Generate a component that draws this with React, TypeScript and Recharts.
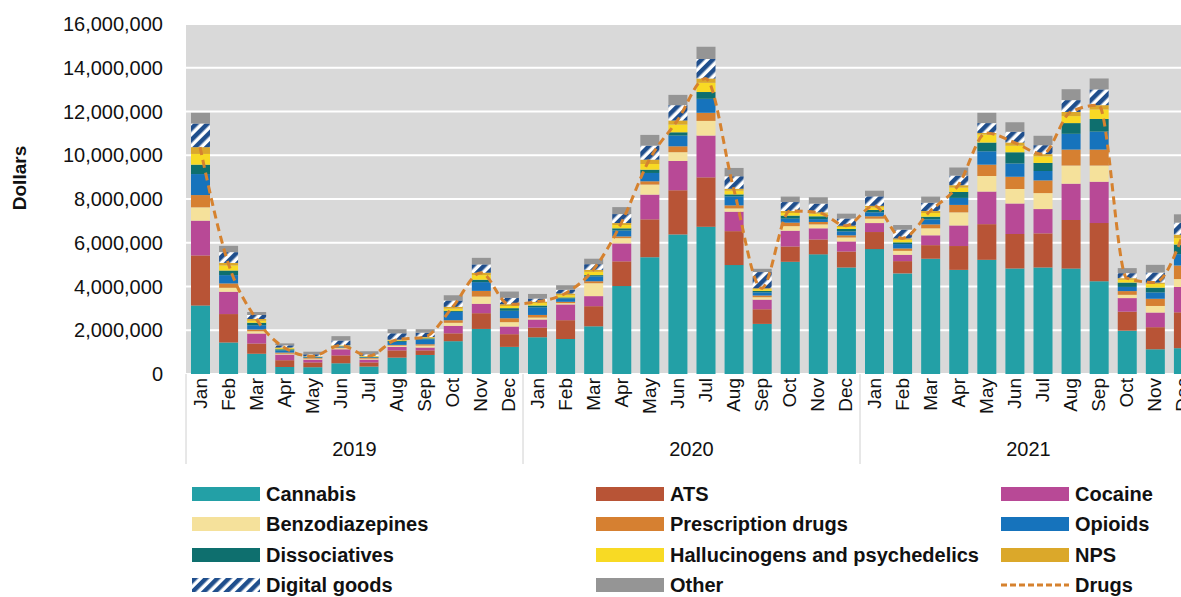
import React from 'react';
import { ComposedChart, Bar, Line, XAxis, YAxis, CartesianGrid, Label } from 'recharts';

const months = ['Jan', 'Feb', 'Mar', 'Apr', 'May', 'Jun', 'Jul', 'Aug', 'Sep', 'Oct', 'Nov', 'Dec'];
const years = ['2019', '2020', '2021'];
const yTicks = [0, 2000000, 4000000, 6000000, 8000000, 10000000, 12000000, 14000000, 16000000];

const cannabis = [
  3130000, 1440000, 930000, 320000, 310000, 490000, 340000, 750000, 870000, 1500000, 2060000, 1240000,
  1680000, 1600000, 2180000, 4020000, 5340000, 6380000, 6730000, 4980000, 2290000, 5130000, 5470000, 4870000,
  5710000, 4600000, 5270000, 4760000, 5220000, 4820000, 4870000, 4820000, 4240000, 1980000, 1130000, 1180000,
];
const ats = [
  2290000, 1300000, 460000, 310000, 220000, 360000, 190000, 330000, 210000, 360000, 720000, 580000,
  440000, 860000, 920000, 1130000, 1730000, 2020000, 2260000, 1550000, 670000, 700000, 680000, 730000,
  780000, 560000, 620000, 1090000, 1630000, 1580000, 1560000, 2220000, 2660000, 870000, 1010000, 1640000,
];
const cocaine = [
  1590000, 1020000, 460000, 260000, 130000, 280000, 130000, 160000, 130000, 340000, 430000, 350000,
  370000, 720000, 460000, 820000, 1130000, 1340000, 1910000, 890000, 440000, 720000, 510000, 460000,
  410000, 290000, 450000, 940000, 1490000, 1390000, 1110000, 1660000, 1890000, 620000, 670000, 1160000,
];
const benzodiazepines = [
  610000, 180000, 100000, 40000, 40000, 50000, 40000, 60000, 90000, 140000, 330000, 200000,
  90000, 60000, 590000, 240000, 460000, 400000, 670000, 150000, 110000, 210000, 180000, 180000,
  200000, 180000, 320000, 600000, 710000, 670000, 730000, 830000, 740000, 150000, 300000, 360000,
];
const prescription = [
  560000, 200000, 80000, 50000, 30000, 30000, 30000, 30000, 60000, 120000, 260000, 180000,
  120000, 60000, 90000, 80000, 150000, 270000, 370000, 140000, 80000, 160000, 110000, 100000,
  110000, 110000, 180000, 340000, 520000, 560000, 580000, 730000, 730000, 170000, 330000, 620000,
];
const opioids = [
  960000, 380000, 200000, 100000, 30000, 40000, 30000, 140000, 230000, 380000, 400000, 340000,
  350000, 150000, 220000, 270000, 380000, 490000, 640000, 410000, 140000, 180000, 130000, 180000,
  180000, 200000, 230000, 320000, 610000, 600000, 430000, 720000, 820000, 190000, 290000, 520000,
];
const dissociatives = [
  430000, 210000, 110000, 50000, 20000, 20000, 20000, 40000, 40000, 50000, 110000, 120000,
  80000, 50000, 60000, 100000, 150000, 150000, 310000, 90000, 70000, 140000, 130000, 110000,
  110000, 80000, 120000, 270000, 400000, 520000, 370000, 490000, 580000, 200000, 220000, 440000,
];
const hallucinogens = [
  490000, 230000, 100000, 50000, 10000, 30000, 30000, 30000, 30000, 100000, 210000, 100000,
  110000, 100000, 150000, 150000, 260000, 350000, 420000, 170000, 80000, 120000, 120000, 90000,
  120000, 120000, 170000, 200000, 370000, 300000, 300000, 320000, 430000, 130000, 170000, 290000,
];
const nps = [
  310000, 120000, 80000, 30000, 20000, 10000, 10000, 30000, 30000, 80000, 110000, 80000,
  60000, 80000, 90000, 90000, 200000, 190000, 200000, 90000, 40000, 90000, 60000, 60000,
  70000, 60000, 90000, 110000, 70000, 140000, 100000, 190000, 200000, 70000, 60000, 160000,
];
const digitalGoods = [
  1080000, 490000, 180000, 100000, 90000, 220000, 80000, 290000, 200000, 290000, 380000, 290000,
  150000, 170000, 260000, 410000, 640000, 700000, 890000, 570000, 740000, 410000, 400000, 330000,
  430000, 400000, 380000, 440000, 450000, 500000, 410000, 540000, 720000, 230000, 460000, 550000,
];
const other = [
  490000, 290000, 140000, 90000, 120000, 200000, 140000, 190000, 160000, 240000, 300000, 290000,
  210000, 210000, 250000, 320000, 490000, 470000, 560000, 380000, 150000, 250000, 290000, 220000,
  260000, 210000, 280000, 370000, 470000, 430000, 430000, 500000, 500000, 230000, 350000, 380000,
];
const drugs = [
  10370000, 5080000, 2520000, 1210000, 810000, 1310000, 820000, 1570000, 1690000, 3070000, 4630000, 3190000,
  3300000, 3680000, 4760000, 6900000, 9800000, 11590000, 13510000, 8470000, 3920000, 7450000, 7390000, 6780000,
  7690000, 6200000, 7450000, 8630000, 11020000, 10580000, 10050000, 11980000, 12290000, 4380000, 4180000, 6370000,
];

const series = [
  { key: 'cannabis', name: 'Cannabis', values: cannabis, color: '#23A0A6' },
  { key: 'ats', name: 'ATS', values: ats, color: '#B85436' },
  { key: 'cocaine', name: 'Cocaine', values: cocaine, color: '#B84996' },
  { key: 'benzodiazepines', name: 'Benzodiazepines', values: benzodiazepines, color: '#F5E19B' },
  { key: 'prescription', name: 'Prescription drugs', values: prescription, color: '#D68031' },
  { key: 'opioids', name: 'Opioids', values: opioids, color: '#1673BC' },
  { key: 'dissociatives', name: 'Dissociatives', values: dissociatives, color: '#0E6F6E' },
  { key: 'hallucinogens', name: 'Hallucinogens and psychedelics', values: hallucinogens, color: '#F8DA24' },
  { key: 'nps', name: 'NPS', values: nps, color: '#DBA82A' },
  { key: 'digital', name: 'Digital goods', values: digitalGoods, color: 'url(#digitalHatch)' },
  { key: 'other', name: 'Other', values: other, color: '#959595' },
];

const data = years.flatMap((yr, yi) =>
  months.map((m, mi) => {
    const i = yi * 12 + mi;
    const row: Record<string, string | number> = { key: `${m} ${yr}`, month: m, year: yr, drugs: drugs[i] };
    series.forEach((s) => {
      row[s.key] = s.values[i];
    });
    return row;
  })
);

const FONT = '"Liberation Sans", Arial, sans-serif';
const HALF_BAND = 1011 / 36 / 2;

const MonthTick = (props: any) => {
  const { x, y, payload } = props;
  const label = String(payload.value).split(' ')[0];
  const ty = y + 4;
  return (
    <text
      x={x}
      y={ty}
      transform={`rotate(-90 ${x} ${ty})`}
      textAnchor="end"
      dominantBaseline="central"
      fontSize={19}
      fontFamily={FONT}
      fill="#111"
    >
      {label}
    </text>
  );
};

const YearTick = (props: any) => {
  const { x, y, payload, index } = props;
  const idx = typeof index === 'number' ? index : 0;
  const yr = String(payload.value).split(' ')[1];
  return (
    <g>
      {idx % 12 === 0 && (
        <line x1={x - HALF_BAND} x2={x - HALF_BAND} y1={y - 50} y2={y + 40} stroke="#D0D0D0" strokeWidth={1} />
      )}
      {idx % 12 === 6 && (
        <text x={x - HALF_BAND} y={y + 32} textAnchor="middle" fontSize={20} fontFamily={FONT} fill="#111">
          {yr}
        </text>
      )}
    </g>
  );
};

const legendItems = [
  ...series.map((s) => ({ name: s.name, color: s.color, kind: s.key === 'digital' ? 'hatch' : 'box' })),
  { name: 'Drugs', color: '#D6822F', kind: 'line' },
];
const legendCols = [192, 596, 1001];
const legendRows = [494, 524, 555, 585];

const Swatch = ({ kind, color }: { kind: string; color: string }) => {
  if (kind === 'line') {
    return (
      <svg width={68} height={14} style={{ display: 'block' }}>
        <line x1={0} x2={68} y1={7} y2={7} stroke={color} strokeWidth={3} strokeDasharray="6 3" />
      </svg>
    );
  }
  if (kind === 'hatch') {
    return (
      <svg width={68} height={14} style={{ display: 'block' }}>
        <defs>
          <pattern id="legendHatch" patternUnits="userSpaceOnUse" width={8} height={8} patternTransform="rotate(45)">
            <rect width={8} height={8} fill="#FFFFFF" />
            <rect width={4.5} height={8} fill="#1F4E8C" />
          </pattern>
        </defs>
        <rect width={68} height={14} fill="url(#legendHatch)" />
      </svg>
    );
  }
  return <div style={{ width: 68, height: 14, background: color }} />;
};

export default function App() {
  return (
    <div
      style={{
        position: 'fixed',
        left: 0,
        top: 0,
        width: 1181,
        height: 597,
        overflow: 'hidden',
        background: '#fff',
      }}
    >
      <style>{'html,body{overflow:hidden;}'}</style>
      <ComposedChart
        width={1200}
        height={597}
        data={data}
        margin={{ top: 24, right: 3, left: 0, bottom: 133 }}
        barSize={19}
      >
        <defs>
          <pattern id="digitalHatch" patternUnits="userSpaceOnUse" width={8} height={8} patternTransform="rotate(45)">
            <rect width={8} height={8} fill="#FFFFFF" />
            <rect width={4.5} height={8} fill="#1F4E8C" />
          </pattern>
        </defs>
        <CartesianGrid vertical={false} stroke="#FFFFFF" strokeWidth={2} fill="#D9D9D9" />
        <XAxis
          dataKey="key"
          interval={0}
          height={50}
          tickLine={false}
          axisLine={false}
          tickSize={0}
          tickMargin={0}
          tick={<MonthTick />}
        />
        <XAxis
          dataKey="key"
          xAxisId="year"
          interval={0}
          height={40}
          tickLine={false}
          axisLine={false}
          tickSize={0}
          tickMargin={0}
          tick={<YearTick />}
        />
        <YAxis
          width={186}
          domain={[0, 16000000]}
          ticks={yTicks}
          interval={0}
          tickLine={false}
          axisLine={false}
          tickMargin={17}
          tick={{ fontSize: 20, fontFamily: FONT, fill: '#111' }}
          tickFormatter={(v: number) => v.toLocaleString('en-US')}
        >
          <Label
            content={() => (
              <text
                x={19}
                y={178}
                transform="rotate(-90 19 178)"
                textAnchor="middle"
                dominantBaseline="central"
                fontSize={19}
                fontWeight="bold"
                fontFamily={FONT}
                fill="#111"
              >
                Dollars
              </text>
            )}
          />
        </YAxis>
        {series.map((s) => (
          <Bar key={s.key} dataKey={s.key} name={s.name} stackId="a" fill={s.color} isAnimationActive={false} />
        ))}
        <Line
          dataKey="drugs"
          name="Drugs"
          type="monotone"
          stroke="#D6822F"
          strokeWidth={3}
          strokeDasharray="8 5"
          dot={false}
          activeDot={false}
          isAnimationActive={false}
        />
      </ComposedChart>
      {legendItems.map((item, i) => {
        const col = i % 3;
        const row = Math.floor(i / 3);
        return (
          <div
            key={item.name}
            style={{
              position: 'absolute',
              left: legendCols[col],
              top: legendRows[row] - 15,
              height: 30,
              display: 'flex',
              alignItems: 'center',
              whiteSpace: 'nowrap',
            }}
          >
            <Swatch kind={item.kind} color={item.color} />
            <span style={{ marginLeft: 6, fontFamily: FONT, fontWeight: 'bold', fontSize: 20, color: '#111' }}>
              {item.name}
            </span>
          </div>
        );
      })}
    </div>
  );
}
